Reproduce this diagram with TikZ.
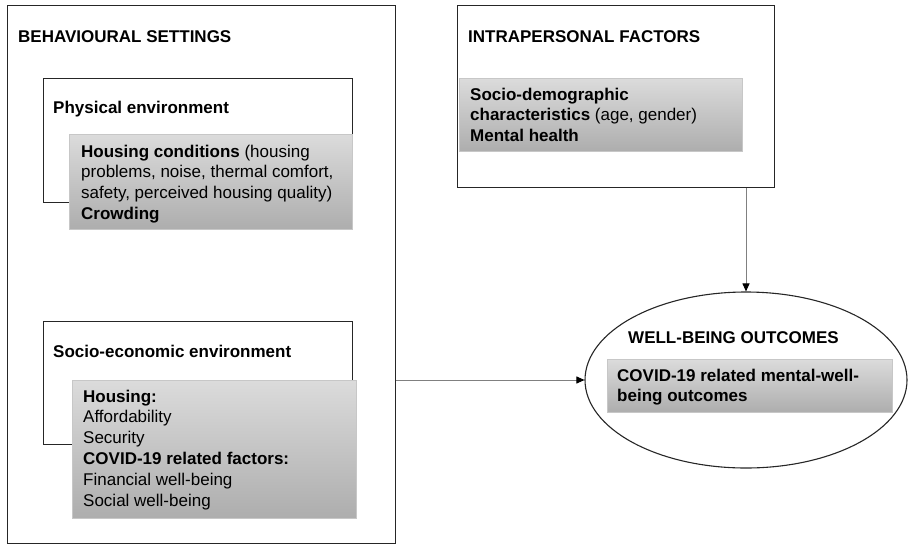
\documentclass[tikz,border=0pt]{standalone}
\usepackage{fontspec}
\setmainfont{Liberation Sans}
\usetikzlibrary{arrows.meta,shapes.geometric}
\begin{document}
\begin{tikzpicture}[x=1pt,y=-1pt,
  frame/.style={draw=black!85, line width=1.1pt, fill=white, inner sep=0pt, anchor=north west},
  shadebox/.style={draw=black!22, line width=0.6pt, top color=black!14, bottom color=black!32, inner sep=0pt, anchor=north west},
  txt/.style={anchor=base west, inner sep=0pt, font=\fontsize{17}{20.8}\selectfont},
  block/.style={txt},
  conn/.style={draw=black!50, line width=0.9pt, -{Triangle[length=8pt,width=7pt,color=black]}}]
\useasboundingbox (0,0) rectangle (912,544);

% behavioural settings
\node[frame, minimum width=388pt, minimum height=538pt] (bs) at (7,5) {};
\node[txt] (bs-t) at (18,42) {\bfseries BEHAVIOURAL SETTINGS};

% physical environment
\node[frame, minimum width=309pt, minimum height=124pt] (pe) at (43,78) {};
\node[txt] (pe-t) at (53,113) {\bfseries Physical environment};
\node[shadebox, minimum width=283pt, minimum height=95pt] (hc) at (69,134) {};
\node[block] (hc-t) at (81,157) {\parbox[t]{300pt}{\raggedright
  \textbf{Housing conditions} (housing\\
  problems, noise, thermal comfort,\\
  safety, perceived housing quality)\\
  \textbf{Crowding}}};

% socio-economic environment
\node[frame, minimum width=309pt, minimum height=123pt] (se) at (43,321) {};
\node[txt] (se-t) at (53,357) {\bfseries Socio-economic environment};
\node[shadebox, minimum width=284pt, minimum height=138pt] (hs) at (72,380) {};
\node[block] (hs-t) at (83,402) {\parbox[t]{300pt}{\raggedright
  \textbf{Housing:}\\
  Affordability\\
  Security\\
  \textbf{COVID-19 related factors:}\\
  Financial well-being\\
  Social well-being}};

% intrapersonal factors
\node[frame, minimum width=317pt, minimum height=182pt] (ip) at (457,5) {};
\node[txt] (ip-t) at (468,42) {\bfseries INTRAPERSONAL FACTORS};
\node[shadebox, minimum width=283pt, minimum height=73pt] (sd) at (459,78) {};
\node[block] (sd-t) at (470,100) {\parbox[t]{300pt}{\raggedright
  \textbf{Socio-demographic}\\
  \textbf{characteristics} (age, gender)\\
  \textbf{Mental health}}};

% well-being outcomes
\node[ellipse, draw=black!85, line width=1.1pt, fill=white, minimum width=322pt, minimum height=176pt, inner sep=0pt] (wb) at (746,380) {};
\node[txt] (wb-t) at (628,343) {\bfseries WELL-BEING OUTCOMES};
\node[shadebox, minimum width=285pt, minimum height=53pt] (mw) at (607,359) {};
\node[block] (mw-t) at (617,381) {\parbox[t]{300pt}{\raggedright\bfseries
  COVID-19 related mental-well-\\
  being outcomes}};

% connectors
\draw[conn] (bs.east |- wb.west) -- (wb.west);
\draw[conn] (wb.north |- ip.south) -- (wb.north);
\end{tikzpicture}
\end{document}
